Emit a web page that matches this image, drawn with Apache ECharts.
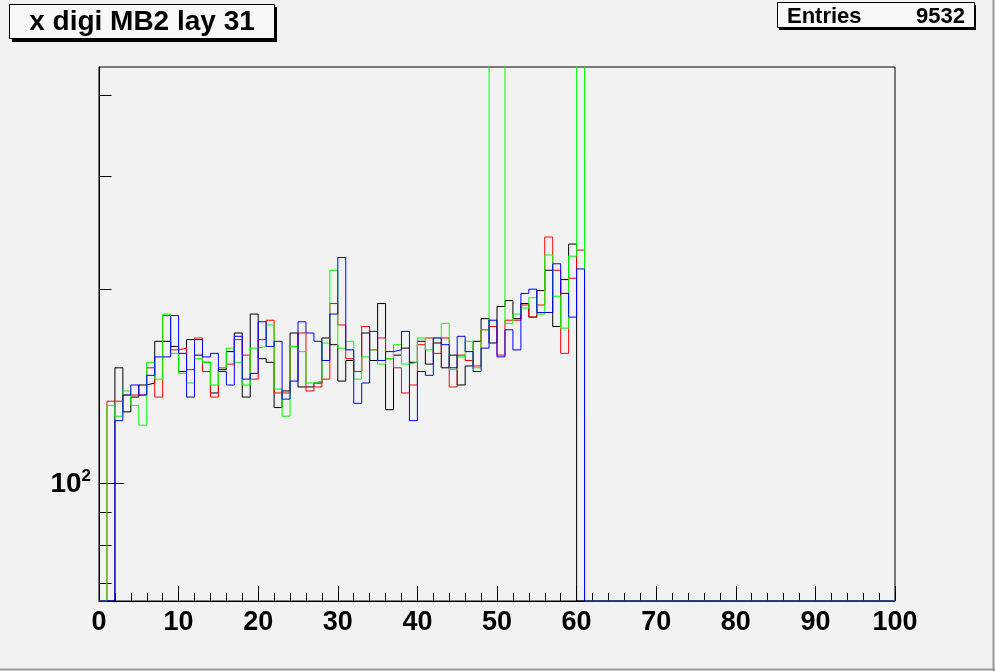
<!DOCTYPE html>
<html><head><meta charset="utf-8">
<script src="https://cdn.jsdelivr.net/npm/echarts@6/dist/echarts.min.js"></script>
<style>html,body{margin:0;padding:0;background:#f2f2f2;overflow:hidden}#c{width:995px;height:671px}</style>
</head><body><div id="c"></div>
<script>
// Histogram contents, bin i covers [i, i+1); bins not listed are empty (0)
const titleText = 'x digi MB2 lay 31';
const entriesLabel = 'Entries';
const entriesValue = '9532';
const xTickLabels = [0,10,20,30,40,50,60,70,80,90,100];
const yMajorTicks = [100];
const yMinorTicks = [70,80,90,200,300,400];

const blackCounts = [0,0,151,129,136,142,143,166,166,163,149,167,158,154,138,150,160,171,136,183,156,154,131,139,171,141,141,143,168,164,144,155,149,171,155,190,130,158,162,154,166,153,165,151,158,142,152,166,180,165,188,192,180,190,181,199,214,175,207,235,0];
const redCounts   = [0,134,134,137,137,137,151,136,182,161,162,150,168,149,136,151,153,167,158,145,167,179,138,138,163,171,139,141,145,190,176,156,149,175,161,168,156,151,138,142,164,168,159,168,141,158,155,152,173,175,158,179,179,189,181,189,241,214,159,208,230];
const greenCounts = [0,132,127,139,132,123,154,145,183,159,148,143,156,154,142,151,162,154,142,162,163,176,140,127,163,160,143,144,165,214,162,166,145,157,161,153,156,164,153,154,168,161,168,177,150,157,166,151,173,900,900,177,183,187,194,183,226,195,174,225,900];
const blueCounts  = [0,0,125,137,142,137,147,157,157,182,159,136,167,157,159,149,142,169,145,148,178,163,166,135,144,178,171,166,155,183,224,161,133,143,172,155,160,161,172,125,149,147,168,164,151,169,160,149,162,179,157,173,161,197,200,184,184,219,197,181,215];

const NBINS = 100, XMIN = 0, XMAX = 100;
const YMIN = 65.6, YMAX = 442.6;

function steps(vals){
  const pts = [];
  for (let i = 0; i < NBINS; i++) {
    const v = i < vals.length ? vals[i] : 0;
    pts.push([i, v > 0 ? v : YMIN]);
  }
  pts.push([NBINS, pts[NBINS-1][1]]);
  return pts;
}
function hist(name, vals, color){
  return {name, type:'line', step:'end', data: steps(vals), symbol:'none', clip:true,
    lineStyle:{color, width:1}, itemStyle:{color}, emphasis:{disabled:true}, animation:false, silent:true};
}

const chart = echarts.init(document.getElementById('c'), null, {renderer:'canvas'});
const FONT = 'Liberation Sans';
chart.setOption({
  backgroundColor:'#f2f2f2',
  animation:false,
  grid:{left:99, top:67, width:796, height:534, show:true, borderColor:'#000', borderWidth:1, backgroundColor:'#f2f2f2'},
  xAxis:{type:'value', min:XMIN, max:XMAX, interval:10,
    axisLine:{show:true, lineStyle:{color:'#000', width:1}},
    axisTick:{show:true, inside:true, length:15, lineStyle:{color:'#000'}},
    minorTick:{show:true, splitNumber:5, length:8, lineStyle:{color:'#000'}},
    splitLine:{show:false},
    axisLabel:{show:true, margin:8, color:'#000', fontFamily:FONT, fontWeight:'bold', fontSize:27,
      customValues: xTickLabels, formatter: v => String(v)}},
  yAxis:[
    {type:'log', logBase:10, min:YMIN, max:YMAX, position:'left',
      axisLine:{show:true, lineStyle:{color:'#000'}},
      axisTick:{show:true, inside:true, length:25, customValues:yMajorTicks, lineStyle:{color:'#000'}},
      splitLine:{show:false},
      axisLabel:{show:true, customValues:yMajorTicks, margin:8, color:'#000',
        formatter: v => '{a|10}{b|' + Math.round(Math.log10(v)) + '}',
        rich:{a:{fontFamily:FONT, fontWeight:'bold', fontSize:28, color:'#000', verticalAlign:'bottom'},
              b:{fontFamily:FONT, fontWeight:'bold', fontSize:17, color:'#000', verticalAlign:'top', padding:[0,0,14,0]}}}},
    {type:'log', logBase:10, min:YMIN, max:YMAX, position:'left', offset:0,
      axisLine:{show:false},
      axisTick:{show:true, inside:true, length:12.5, customValues:yMinorTicks, lineStyle:{color:'#000'}},
      splitLine:{show:false}, axisLabel:{show:false}}
  ],
  series:[
    hist('black', blackCounts, '#000000'),
    hist('red', redCounts, '#ff0000'),
    hist('green', greenCounts, '#00ff00'),
    hist('blue', blueCounts, '#0000ff')
  ],
  graphic:[
    {type:'rect', shape:{x:12, y:7, width:265, height:35}, style:{fill:'#000'}, silent:true},
    {type:'rect', shape:{x:9.5, y:4.5, width:265, height:34}, style:{fill:'#f8f8f8', stroke:'#000', lineWidth:1}, silent:true},
    {type:'text', x:142, y:22, style:{text:titleText, font:'bold 28px "Liberation Sans"', fill:'#000', textAlign:'center', textVerticalAlign:'middle'}, silent:true},
    {type:'rect', shape:{x:779, y:5, width:197, height:25}, style:{fill:'#000'}, silent:true},
    {type:'rect', shape:{x:777.5, y:2.5, width:197, height:25}, style:{fill:'#f8f8f8', stroke:'#000', lineWidth:1}, silent:true},
    {type:'text', x:787, y:17, style:{text:entriesLabel, font:'bold 22px "Liberation Sans"', fill:'#000', textAlign:'left', textVerticalAlign:'middle'}, silent:true},
    {type:'text', x:965, y:17, style:{text:entriesValue, font:'bold 22px "Liberation Sans"', fill:'#000', textAlign:'right', textVerticalAlign:'middle'}, silent:true},
    {type:'line', shape:{x1:993.5, y1:0, x2:993.5, y2:671}, style:{stroke:'#9a9a9a', lineWidth:2}, silent:true},
    {type:'line', shape:{x1:0, y1:669.5, x2:995, y2:669.5}, style:{stroke:'#9a9a9a', lineWidth:2}, silent:true}
  ]
});
</script></body></html>
